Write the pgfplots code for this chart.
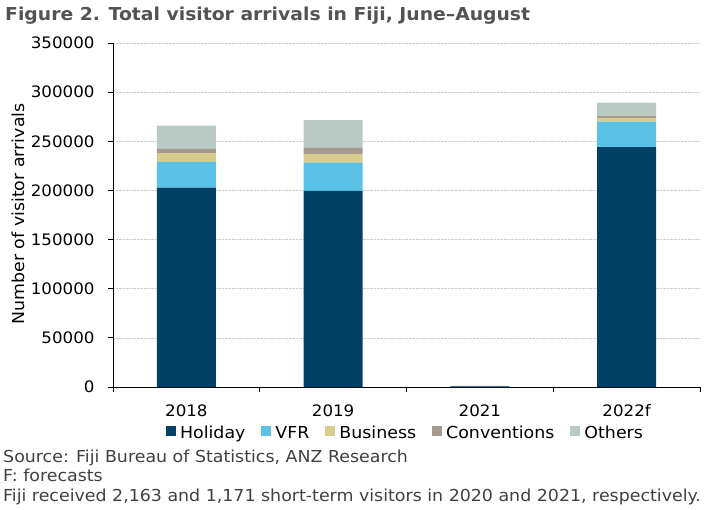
\documentclass[border=0pt]{standalone}
\usepackage{fontspec}
\setmainfont{DejaVu Sans}[FakeStretch=1.055]
\usepackage{pgfplots}
\pgfplotsset{compat=1.18}
\definecolor{hol}{HTML}{004165}
\definecolor{vfr}{HTML}{5BC2E7}
\definecolor{bus}{HTML}{D6CC8E}
\definecolor{con}{HTML}{A59A8F}
\definecolor{oth}{HTML}{B9C9C3}
\definecolor{txt}{HTML}{404040}
\newcommand\fs{\fontsize{16.5bp}{19bp}\selectfont}
\newcommand\fst{\fontsize{15.8bp}{19bp}\selectfont}
\newcommand\legent[1]{\hspace*{2bp}#1\hspace*{14bp}}
\begin{document}
\begin{tikzpicture}
\useasboundingbox (0,-510bp) rectangle (707bp,0);
\node[anchor=base west, font=\bfseries\fontsize{17.8bp}{20bp}\selectfont, text=txt!90, inner sep=0] at (5bp,-20bp) {Figure 2. Total visitor arrivals in Fiji, June–August};
\begin{axis}[
 at={(113bp,-387bp)}, anchor=south west,
 scale only axis, width=587bp, height=344bp,
 ybar stacked, bar width=59bp,
 xmin=-0.5, xmax=3.5, ymin=0, ymax=350000,
 ytick={0,50000,...,350000},
 scaled y ticks=false,
 yticklabel style={/pgf/number format/.cd, fixed, 1000 sep={}, assume math mode=true, /tikz/.cd, anchor=east, xshift=-10bp},
 xticklabel style={yshift=-9bp},
 ticklabel style={font=\fst, text=black},
 xtick={0,1,2,3}, xticklabels={2018,2019,2021,2022f},
 major x tick style={draw=none},
 minor xtick={-0.5,0.5,1.5,2.5,3.5},
 tick align=outside,
 major tick length=5bp, minor tick length=5bp,
 tick style={black, line width=0.8pt},
 axis x line*=bottom, axis y line*=left,
 axis line style={black, line width=0.8pt},
 ymajorgrids, grid style={densely dotted, color=gray!40, line width=0.6pt},
 legend style={at={(0.5,-0.134)}, anchor=center, xshift=6bp, draw=none, font=\fs, column sep=0pt},
 legend columns=-1,
 legend image code/.code={\fill[#1] (0bp,-0.32em) rectangle (10bp,10bp-0.32em);},
]
\addplot[fill=hol, draw=none] coordinates {(0,202900) (1,199500) (2,700) (3,244000)};
\addplot[fill=vfr, draw=none] coordinates {(0,26100) (1,28800) (2,200) (3,26100)};
\addplot[fill=bus, draw=none] coordinates {(0,8900) (1,8900) (2,50) (3,3700)};
\addplot[fill=con, draw=none] coordinates {(0,4400) (1,6100) (2,20) (3,2400)};
\addplot[fill=oth, draw=none] coordinates {(0,23700) (1,28200) (2,201) (3,13200)};
\legend{\legent{Holiday},\legent{VFR},\legent{Business},\legent{Conventions},\legent{Others}}
\end{axis}
\node[rotate=90, anchor=base, font=\fs, text=black, inner sep=0] at (24bp,-214bp) {Number of visitor arrivals};
\node[anchor=base west, font=\fs, text=txt, inner sep=0] at (3bp,-462bp) {Source: Fiji Bureau of Statistics, ANZ Research};
\node[anchor=base west, font=\fs, text=txt, inner sep=0] at (3bp,-481.5bp) {F: forecasts};
\node[anchor=base west, font=\fs, text=txt, inner sep=0] at (3bp,-501bp) {Fiji received 2,163 and 1,171 short-term visitors in 2020 and 2021, respectively.};
\end{tikzpicture}
\end{document}
